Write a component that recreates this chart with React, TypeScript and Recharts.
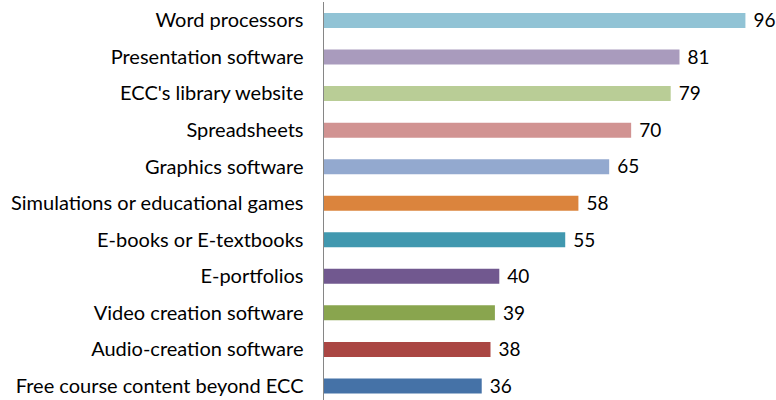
import React from "react";
import { BarChart, Bar, XAxis, YAxis, Cell, LabelList } from "recharts";

const categories = [
  "Word processors",
  "Presentation software",
  "ECC's library website",
  "Spreadsheets",
  "Graphics software",
  "Simulations or educational games",
  "E-books or E-textbooks",
  "E-portfolios",
  "Video creation software",
  "Audio-creation software",
  "Free course content beyond ECC",
];
const values = [96, 81, 79, 70, 65, 58, 55, 40, 39, 38, 36];
const colors = [
  "#91C3D5",
  "#A99BBD",
  "#B9CD96",
  "#D19392",
  "#93A9CF",
  "#DB843D",
  "#4198AF",
  "#71588F",
  "#89A54E",
  "#AA4643",
  "#4572A7",
];

const data = categories.map((c, i) => ({ name: c, value: values[i] }));

const FONT = "Lato, sans-serif";

export default function App() {
  return (
    <div style={{ position: "absolute", left: 0, top: 0, width: 776, height: 400, overflow: "hidden", background: "#fff" }}>
      <BarChart
        width={776}
        height={408}
        data={data}
        layout="vertical"
        margin={{ top: 2, right: 13, bottom: 4, left: 0 }}
        barCategoryGap="20%"
      >
        <XAxis type="number" domain={[0, 100]} hide />
        <YAxis
          type="category"
          dataKey="name"
          width={323.5}
          tickLine={false}
          tickSize={0}
          tickMargin={20}
          axisLine={{ stroke: "#868686", strokeWidth: 1 }}
          tick={{ fill: "#000", fontSize: 20, fontFamily: FONT }}
          interval={0}
        />
        <Bar dataKey="value" barSize={15} isAnimationActive={false}>
          {data.map((d, i) => (
            <Cell key={d.name} fill={colors[i]} />
          ))}
          <LabelList
            dataKey="value"
            position="right"
            offset={8}
            style={{ fill: "#000", fontSize: 19, fontFamily: FONT }}
          />
        </Bar>
      </BarChart>
    </div>
  );
}
